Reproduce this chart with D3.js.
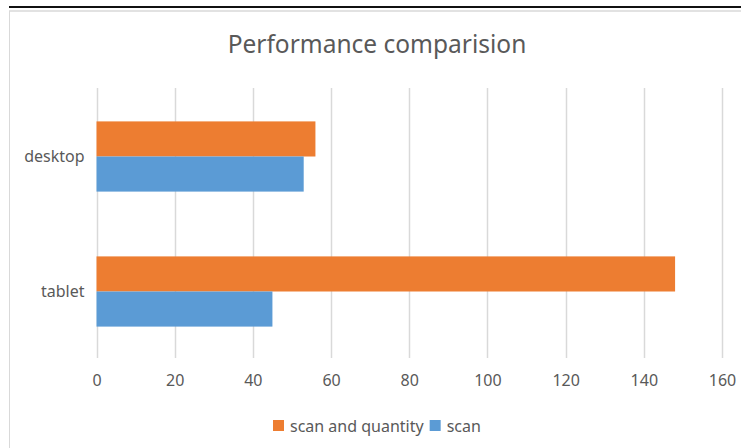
<!DOCTYPE html>
<html>
<head>
<meta charset="utf-8">
<script src="https://cdn.jsdelivr.net/npm/d3@7"></script>
<style>
  body { margin: 0; background: #fff; }
  text { font-family: "Noto Sans", "Liberation Sans", sans-serif; fill: #595959; }
</style>
</head>
<body>
<svg width="741" height="448"></svg>
<script>
// horizontal grouped bar chart

var categories = ["desktop", "tablet"];
var seriesNames = ["scan and quantity", "scan"];
var scanAndQuantity = [56, 148];
var scan = [53, 45];
var ticks = [0, 20, 40, 60, 80, 100, 120, 140, 160];
var colors = ["#ed7d31", "#5b9bd5"];

var svg = d3.select("svg"),
    width = +svg.attr("width"),
    height = +svg.attr("height");

var margin = {top: 88, right: 19, bottom: 90, left: 96.5};

// frame lines round the chart
svg.append("line")
    .attr("x1", 9).attr("x2", width).attr("y1", 7).attr("y2", 7)
    .attr("stroke", "#111").attr("stroke-width", 2);
svg.append("line")
    .attr("x1", 9).attr("x2", width).attr("y1", 11).attr("y2", 11)
    .attr("stroke", "#d9d9d9").attr("stroke-width", 1.5);
svg.append("line")
    .attr("x1", 9.5).attr("x2", 9.5).attr("y1", 11).attr("y2", height)
    .attr("stroke", "#d9d9d9").attr("stroke-width", 1);

var x = d3.scaleLinear()
    .domain([0, 160])
    .range([margin.left, width - margin.right]);

var y = d3.scaleBand()
    .domain(categories)
    .range([margin.top, height - margin.bottom])
    .paddingInner(0.48)
    .paddingOuter(0.24);

var y1 = d3.scaleBand()
    .domain(seriesNames)
    .range([0, y.bandwidth()]);

var data = categories.map(function (c, i) {
    return {cat: c, values: [scanAndQuantity[i], scan[i]]};
});

// gridlines
svg.append("g")
    .attr("class", "grid")
    .selectAll("line")
    .data(ticks)
    .enter().append("line")
    .attr("x1", function (d) { return Math.round(x(d)) + 0.5; })
    .attr("x2", function (d) { return Math.round(x(d)) + 0.5; })
    .attr("y1", margin.top)
    .attr("y2", height - margin.bottom)
    .attr("stroke", "#d9d9d9")
    .attr("stroke-width", 1.5);

// bars
var group = svg.append("g")
    .selectAll("g")
    .data(data)
    .enter().append("g")
    .attr("transform", function (d) { return "translate(0," + (y(d.cat) + 1) + ")"; });

group.selectAll("rect")
    .data(function (d) { return d.values; })
    .enter().append("rect")
    .attr("x", x(0))
    .attr("y", function (d, i) { return y1(seriesNames[i]); })
    .attr("width", function (d) { return x(d) - x(0); })
    .attr("height", y1.bandwidth())
    .attr("fill", function (d, i) { return colors[i]; });

// x tick labels
var xAxis = d3.axisBottom(x)
    .tickValues(ticks)
    .tickSize(0)
    .tickPadding(17);

var gx = svg.append("g")
    .attr("transform", "translate(0," + (height - margin.bottom) + ")")
    .call(xAxis);
gx.select(".domain").remove();
gx.selectAll("text")
    .attr("font-size", "16px")
    .attr("font-family", null)
    .attr("fill", "#595959");

// category labels
var yAxis = d3.axisLeft(y)
    .tickSize(0)
    .tickPadding(12);

var gy = svg.append("g")
    .attr("transform", "translate(" + margin.left + ",1)")
    .call(yAxis);
gy.select(".domain").remove();
gy.selectAll("text")
    .attr("font-size", "16px")
    .attr("font-family", null)
    .attr("fill", "#595959");

// title
svg.append("text")
    .attr("x", 377)
    .attr("y", 53)
    .attr("text-anchor", "middle")
    .attr("font-size", "24.5px")
    .text("Performance comparision");

// legend
var legend = svg.append("g")
    .attr("transform", "translate(273,426)");

var lx = 0;
seriesNames.forEach(function (name, i) {
    var item = legend.append("g").attr("transform", "translate(" + lx + ",0)");
    item.append("rect")
        .attr("x", 0).attr("y", -6)
        .attr("width", 11).attr("height", 11)
        .attr("fill", colors[i]);
    var t = item.append("text")
        .attr("x", 17)
        .attr("dy", "0.35em")
        .attr("font-size", "16px")
        .text(name);
    lx += 17 + t.node().getComputedTextLength() + 6;
});
</script>
</body>
</html>
